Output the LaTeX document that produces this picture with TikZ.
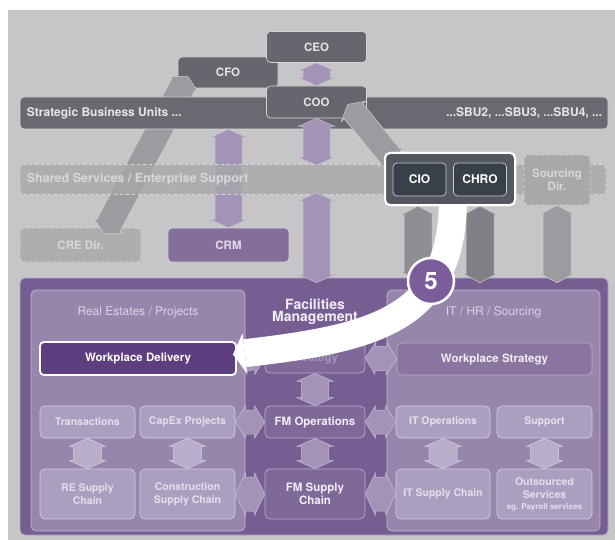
\documentclass[tikz,border=0pt]{standalone}
\usepackage{fontspec}
\setmainfont{TeX Gyre Heros}
\usetikzlibrary{calc,arrows.meta}

\definecolor{bggray}{HTML}{C6C6C8}
\definecolor{execfill}{HTML}{66676E}
\definecolor{execline}{HTML}{D5D5D8}
\definecolor{exectext}{HTML}{E6E6E8}
\definecolor{sbufill}{HTML}{696A71}
\definecolor{sharedfill}{HTML}{A8A8AB}
\definecolor{dashline}{HTML}{DADADC}
\definecolor{sharedtext}{HTML}{D8D8DA}
\definecolor{cioframe}{HTML}{53575F}
\definecolor{ciofill}{HTML}{38404A}
\definecolor{cioline}{HTML}{C9CBCF}
\definecolor{crmfill}{HTML}{866E9B}
\definecolor{crmtext}{HTML}{E2DCE9}
\definecolor{lavender}{HTML}{A393B6}
\definecolor{lavline}{HTML}{C9C0D6}
\definecolor{grayarr}{HTML}{9C9CA0}
\definecolor{grayline}{HTML}{CFCFD2}
\definecolor{cioarr}{HTML}{8E8F93}
\definecolor{chroarr}{HTML}{808186}
\definecolor{fmfill}{HTML}{765E93}
\definecolor{fmline}{HTML}{B2A5C4}
\definecolor{panelfill}{HTML}{9786AC}
\definecolor{panelline}{HTML}{C3B9D2}
\definecolor{paneltext}{HTML}{D9D3E3}
\definecolor{subfill}{HTML}{AB9FC0}
\definecolor{subline}{HTML}{D4CCE0}
\definecolor{subtext}{HTML}{E4E0EB}
\definecolor{lightarr}{HTML}{B8AEC9}
\definecolor{lightline}{HTML}{D8D1E2}
\definecolor{corefill}{HTML}{7E6999}
\definecolor{coreline}{HTML}{B7ABC9}
\definecolor{coretext}{HTML}{F1EEF5}
\definecolor{wpdelfill}{HTML}{5D3E7E}
\definecolor{wpstratfill}{HTML}{8A74A0}
\definecolor{badgefill}{HTML}{7A5D9A}

% two-headed block arrow: style, from, to, half shaft, half head, head length
\newcommand{\twoway}[6]{%
  \path[#1] (#2) -- ($(#2)!#6!(#3)!#5!90:(#3)$) -- ($(#2)!#6!(#3)!#4!90:(#3)$)
    -- ($(#3)!#6!(#2)!#4!-90:(#2)$) -- ($(#3)!#6!(#2)!#5!-90:(#2)$) -- (#3)
    -- ($(#3)!#6!(#2)!#5!90:(#2)$) -- ($(#3)!#6!(#2)!#4!90:(#2)$)
    -- ($(#2)!#6!(#3)!#4!-90:(#3)$) -- ($(#2)!#6!(#3)!#5!-90:(#3)$) -- cycle;}

\begin{document}
\begin{tikzpicture}[x=1pt,y=-1pt]
    \tikzstyle{exec}=[draw=execline,fill=execfill,rounded corners=4pt,line width=0.7pt,minimum width=100pt,minimum height=31pt,inner sep=0pt,text=exectext,font=\bfseries\fontsize{11.5}{13}\selectfont]
    \tikzstyle{bar}=[draw=execline,fill=sbufill,rounded corners=4pt,line width=0.7pt,minimum width=588pt,minimum height=32pt,inner sep=0pt]
    \tikzstyle{dashbox}=[draw=dashline,dashed,fill=sharedfill,fill opacity=0.8,text opacity=1,rounded corners=4pt,line width=0.7pt,inner sep=0pt,text=sharedtext,font=\bfseries\fontsize{11.5}{13}\selectfont,align=center]
    \tikzstyle{bartext}=[inner sep=0pt,font=\bfseries\fontsize{12}{13}\selectfont]
    \tikzstyle{officer}=[draw=cioline,fill=ciofill,rounded corners=4pt,line width=0.7pt,minimum width=53pt,minimum height=33pt,inner sep=0pt,text=white,font=\bfseries\fontsize{12}{13}\selectfont]
    \tikzstyle{panel}=[draw=panelline,fill=panelfill,rounded corners=5pt,line width=0.7pt,minimum width=214pt,minimum height=241pt,inner sep=0pt]
    \tikzstyle{subbox}=[draw=subline,fill=subfill,rounded corners=5pt,line width=0.7pt,minimum width=95pt,inner sep=0pt,text=subtext,align=center,font=\bfseries\fontsize{10.5}{13}\selectfont]
    \tikzstyle{corebox}=[draw=coreline,fill=corefill,rounded corners=5pt,line width=0.7pt,minimum width=100pt,inner sep=0pt,text=coretext,align=center,font=\bfseries\fontsize{11.5}{13}\selectfont]
    \tikzstyle{lav}=[fill=lavender,draw=lavline,line width=0.5pt]
    \tikzstyle{grayblock}=[fill=grayarr,draw=grayline,line width=0.5pt]
    \tikzstyle{lightblock}=[fill=lightarr,draw=lightline,line width=0.5pt]

    \useasboundingbox (0,0) rectangle (615,540);
    \fill[white] (0,0) rectangle (615,540);
    \fill[bggray] (8,10) rectangle (615,540);

    % executive level
    \node[exec] (cfo) at (228,72.5) {CFO};
    \node[dashbox,minimum width=121pt,minimum height=34pt] (cre) at (80.5,245) {CRE Dir.};
    \coordinate (cfoEnd) at ([shift={(10,-12)}]cfo.south west);
    \coordinate (creEnd) at ([shift={(23.5,6)}]cre.north);
    \twoway{grayblock}{cfoEnd}{creEnd}{13pt}{17pt}{9pt}

    \node[bar] (sbu) at (314,113) {};
    \node[bartext,anchor=west,text=exectext] (sbuL) at ([xshift=7pt]sbu.west) {Strategic Business Units ...};
    \node[bartext,anchor=east,text=exectext] (sbuR) at ([xshift=-6pt]sbu.east) {...SBU2, ...SBU3, ...SBU4, ...};

    \node[exec,minimum height=32pt] (coo) at (316.5,102) {COO};
    \node[exec] (ceo) at (316.5,47) {CEO};
    \twoway{lav}{ceo.south}{coo.north}{13.5pt}{18pt}{8pt}

    \node[draw=execline,fill=crmfill,rounded corners=4pt,line width=0.7pt,minimum width=121pt,minimum height=34pt,inner sep=0pt,text=crmtext,font=\bfseries\fontsize{11.5}{13}\selectfont] (crm) at (228.5,245) {CRM};
    \coordinate (sbuC) at (sbu.south -| crm.north);
    \twoway{lav}{sbuC}{crm.north}{13.5pt}{18pt}{8pt}

    \node[dashbox,minimum width=586pt,minimum height=30pt] (shared) at (313,179.5) {};
    \node[bartext,anchor=west,text=sharedtext,font=\bfseries\fontsize{12.5}{13}\selectfont] (sharedL) at ([xshift=7pt]shared.west) {Shared Services / Enterprise Support};
    \coordinate (shTop) at ($(shared.north -| coo.south)+(0,1)$);
    \coordinate (shBot) at ($(shared.south -| coo.south)+(0,-2)$);
    \twoway{lav}{coo.south}{shTop}{13.5pt}{18pt}{8pt}

    \node[dashbox,minimum width=66pt,minimum height=50pt,fill opacity=1] (srcdir) at (557,180) {Sourcing\\Dir.};

    % COO to CIO/CHRO
    \coordinate (cooEnd) at ([shift={(-19,-14)}]coo.south east);
    \coordinate (cioEnd) at (396,163);
    \twoway{grayblock}{cooEnd}{cioEnd}{12pt}{16pt}{9pt}

    % facilities management area
    \node[draw=fmline,fill=fmfill,rounded corners=5pt,line width=0.7pt,minimum width=588pt,minimum height=257pt,inner sep=0pt] (fmarea) at (314,406.5) {};
    \node[panel] (repanel) at (138,410.5) {};
    \node[panel,minimum width=213pt] (itpanel) at (493.5,410.5) {};
    \node[text=paneltext,font=\fontsize{12}{13}\selectfont] (retitle) at (138,312) {Real Estates / Projects};
    \node[text=paneltext,font=\fontsize{12}{13}\selectfont] (ittitle) at (493.5,312) {IT / HR / Sourcing};
    \node[text=coretext,align=center,font=\bfseries\fontsize{14}{12.5}\selectfont] (fmtitle) at (315,312) {Facilities\\Management};

    \node[draw=white,fill=wpdelfill,rounded corners=4pt,line width=1.8pt,minimum width=196pt,minimum height=33pt,inner sep=0pt,text=white,font=\bfseries\fontsize{11.5}{13}\selectfont] (wpdel) at (138,358.5) {Workplace Delivery};
    \node[corebox,minimum height=30pt,text=lavender] (fmstrat) at (315,358) {Strategy};
    \node[corebox,fill=wpstratfill,minimum width=195pt,minimum height=32pt] (wpstrat) at (494.5,359) {Workplace Strategy};

    \node[subbox,minimum height=32pt] (trans) at (87.5,422) {Transactions};
    \node[subbox,minimum height=32pt] (capex) at (187.5,422) {CapEx Projects};
    \node[corebox,minimum height=32pt] (fmops) at (315,422) {FM Operations};
    \node[subbox,minimum height=32pt,minimum width=94pt] (itops) at (443,422) {IT Operations};
    \node[subbox,minimum height=32pt] (support) at (544.5,422) {Support};

    \node[subbox,minimum height=50pt] (resc) at (87.5,494) {RE Supply\\Chain};
    \node[subbox,minimum height=50pt] (consc) at (187.5,494) {Construction\\Supply Chain};
    \node[corebox,minimum height=50pt] (fmsc) at (315,494) {FM Supply\\Chain};
    \node[subbox,minimum height=50pt,minimum width=94pt] (itsc) at (443,494) {IT Supply Chain};
    \node[subbox,minimum height=50pt] (outs) at (544.5,494) {Outsourced\\Services\\[-2pt]{\fontsize{8}{9}\selectfont eg. Payroll services}};

    % links inside the FM area
    \foreach \from/\to in {trans/resc,capex/consc,itops/itsc,support/outs}
        {\twoway{lightblock}{\from.south}{\to.north}{14pt}{18pt}{8pt}}
    \foreach \from/\to in {fmstrat/fmops,fmops/fmsc}
        {\twoway{lav}{\from.south}{\to.north}{13.5pt}{18pt}{8pt}}
    \foreach \from/\to in {wpdel/fmstrat,fmstrat/wpstrat,capex/fmops,fmops/itops}
        {\twoway{lav}{\from.east}{\to.west}{12pt}{16pt}{10pt}}
    \foreach \from/\to in {consc/fmsc,fmsc/itsc}
        {\twoway{lav}{\from.east}{\to.west}{17pt}{21pt}{10pt}}

    % links down to the FM area
    \node[draw=white,fill=cioframe,rounded corners=5pt,line width=2pt,minimum width=130pt,minimum height=52pt,inner sep=0pt] (cioc) at (450,179) {};
    \coordinate (fmTop) at ($(fmarea.north -| coo.south)+(0,5)$);
    \coordinate (cioTop) at ($(cioc.south)+(-32,0)$);
    \coordinate (cioBot) at ($(fmarea.north -| cioTop)+(0,3)$);
    \coordinate (chroTop) at ($(cioc.south)+(30,0)$);
    \coordinate (chroBot) at ($(fmarea.north -| chroTop)+(0,5)$);
    \coordinate (srcBot) at ($(fmarea.north -| srcdir.south)+(0,5)$);
    \twoway{lav}{shBot}{fmTop}{13.5pt}{18pt}{8pt}
    \twoway{fill=cioarr,draw=grayline,line width=0.5pt}{cioTop}{cioBot}{14pt}{17pt}{9pt}
    \twoway{fill=chroarr,draw=grayline,line width=0.5pt}{chroTop}{chroBot}{14pt}{17pt}{9pt}
    \twoway{grayblock}{srcdir.south}{srcBot}{14pt}{17pt}{9pt}

    % CHRO to workplace delivery
    \draw[white,line width=28pt,-{Triangle[length=12pt,width=40pt,line width=0pt]}]
        ([shift={(3,-8)}]cioc.south) .. controls (453,318) and (378,338) .. ([shift={(-4,-4)}]wpdel.east);

    \node[draw=white,fill=cioframe,rounded corners=5pt,line width=2pt,minimum width=130pt,minimum height=52pt,inner sep=0pt] (ciocTop) at (cioc) {};
    \node[officer] (cio) at (419.5,179.5) {CIO};
    \node[officer] (chro) at (480,179.5) {CHRO};

    \node[circle,draw=white,fill=badgefill,line width=2.5pt,minimum size=46pt,inner sep=0pt,text=white,font=\bfseries\fontsize{24}{24}\selectfont] (badge) at (431,281) {5};
\end{tikzpicture}
\end{document}
